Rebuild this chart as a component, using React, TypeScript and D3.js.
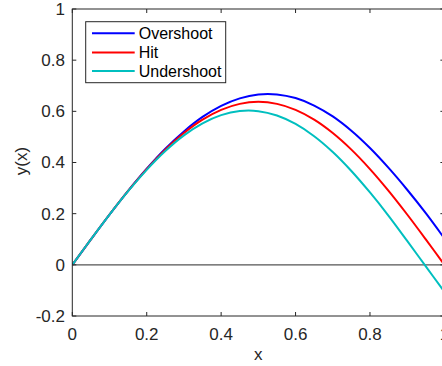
import React from "react";
import * as d3 from "d3";

const xs = [0, 0.05, 0.1, 0.15, 0.2, 0.25, 0.3, 0.35, 0.4, 0.45, 0.5, 0.55, 0.6, 0.65, 0.7, 0.75, 0.8, 0.85, 0.9, 0.95, 1.0];
const overshoot = [0, 0.0993, 0.1965, 0.2893, 0.3756, 0.4538, 0.5216, 0.5781, 0.6214, 0.6508, 0.666, 0.6662, 0.6518, 0.6226, 0.58, 0.524, 0.4564, 0.3787, 0.2935, 0.2019, 0.1033];
const hit = [0, 0.0996, 0.1968, 0.2892, 0.3744, 0.4504, 0.5153, 0.5676, 0.6058, 0.6292, 0.637, 0.6292, 0.6058, 0.5676, 0.5153, 0.4504, 0.3744, 0.2892, 0.1968, 0.0996, 0];
const undershoot = [0, 0.0996, 0.1964, 0.2878, 0.3714, 0.4448, 0.5059, 0.5531, 0.5852, 0.6012, 0.6007, 0.5836, 0.5506, 0.5027, 0.4409, 0.3668, 0.2828, 0.1917, 0.0935, -0.006, -0.1053];
const seriesNames = ["Overshoot", "Hit", "Undershoot"];
const seriesColors = ["#0000ff", "#ff0000", "#00bfbf"];
const xTicks = [0, 0.2, 0.4, 0.6, 0.8, 1];
const yTicks = [-0.2, 0, 0.2, 0.4, 0.6, 0.8, 1];

const W = 442, H = 366;
const L = 72.3, R = 444.4, T = 9, B = 316;

export default function App() {
  const x = d3.scaleLinear().domain([0, 1]).range([L, R]);
  const y = d3.scaleLinear().domain([-0.2, 1]).range([B, T]);
  const line = d3.line<number>().x((_, i) => x(xs[i])).y((d) => y(d)).curve(d3.curveCatmullRom);
  const data = [overshoot, hit, undershoot];
  const axisColor = "#262626";
  const font = "'Liberation Sans', Arial, Helvetica, sans-serif";
  const tl = 4;
  const legX = 85.7, legY = 21.7, legW = 140, legH = 61;
  const rowY = [33.3, 52.5, 71];
  return (
    <svg width={W} height={H} style={{ position: "absolute", left: 0, top: 0, background: "#fff" }} fontFamily={font}>
      <rect x={0} y={0} width={W} height={H} fill="#fff" />
      <defs>
        <clipPath id="plot">
          <rect x={L} y={T} width={R - L} height={B - T} />
        </clipPath>
      </defs>
      {/* zero line */}
      <line x1={x(0)} x2={x(1)} y1={y(0)} y2={y(0)} stroke="#555" strokeWidth={1.2} />
      <g clipPath="url(#plot)">
        {data.map((d, i) => (
          <path key={i} d={line(d) || ""} fill="none" stroke={seriesColors[i]} strokeWidth={2} />
        ))}
      </g>
      {/* box */}
      <rect x={L} y={T} width={R - L} height={B - T} fill="none" stroke={axisColor} strokeWidth={1} />
      {xTicks.map((t) => (
        <g key={"x" + t}>
          <line x1={x(t)} x2={x(t)} y1={B} y2={B - tl} stroke={axisColor} />
          <line x1={x(t)} x2={x(t)} y1={T} y2={T + tl} stroke={axisColor} />
          <text x={x(t)} y={340} textAnchor="middle" fontSize={17} fill={axisColor}>
            {d3.format("")(t)}
          </text>
        </g>
      ))}
      {yTicks.map((t) => (
        <g key={"y" + t}>
          <line x1={L} x2={L + tl} y1={y(t)} y2={y(t)} stroke={axisColor} />
          <line x1={R} x2={R - tl} y1={y(t)} y2={y(t)} stroke={axisColor} />
          <text x={65} y={y(t)} dy="0.35em" textAnchor="end" fontSize={17} fill={axisColor}>
            {t < 0 ? "-" + d3.format("")(-t) : d3.format("")(t)}
          </text>
        </g>
      ))}
      <text x={(L + R) / 2} y={360} textAnchor="middle" fontSize={17} fill={axisColor}>x</text>
      <text transform={`translate(27,161) rotate(-90)`} textAnchor="middle" fontSize={17} fill={axisColor}>y(x)</text>
      {/* legend */}
      <rect x={legX} y={legY} width={legW} height={legH} fill="#fff" stroke={axisColor} strokeWidth={1} />
      {seriesNames.map((n, i) => (
        <g key={n}>
          <line x1={92} x2={134.7} y1={rowY[i]} y2={rowY[i]} stroke={seriesColors[i]} strokeWidth={2} />
          <text x={138.7} y={rowY[i]} dy="0.35em" fontSize={16} fill="#000">{n}</text>
        </g>
      ))}
    </svg>
  );
}
